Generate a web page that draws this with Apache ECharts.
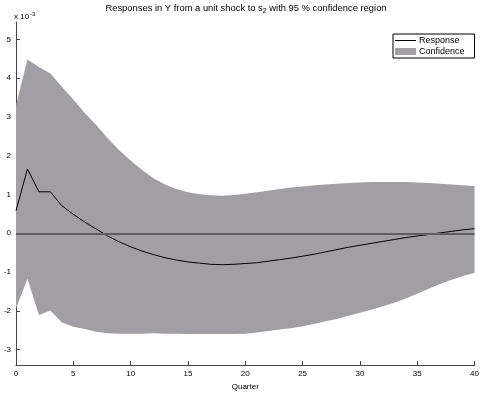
<!DOCTYPE html>
<html>
<head>
<meta charset="utf-8">
<script src="https://cdn.jsdelivr.net/npm/echarts@6/dist/echarts.min.js"></script>
<style>html,body{margin:0;padding:0;background:#fff}#c{width:482px;height:396px}</style>
</head>
<body>
<div id="c"></div>
<script>
var quarters = ['0','1','2','3','4','5','6','7','8','9','10','11','12','13','14','15','16','17','18','19','20','21','22','23','24','25','26','27','28','29','30','31','32','33','34','35','36','37','38','39','40'];
var response = [0.58, 1.66, 1.07, 1.07, 0.71, 0.49, 0.29, 0.11, -0.07, -0.22, -0.35, -0.46, -0.55, -0.63, -0.69, -0.74, -0.77, -0.80, -0.81, -0.80, -0.78, -0.76, -0.72, -0.68, -0.64, -0.59, -0.54, -0.48, -0.42, -0.36, -0.31, -0.26, -0.21, -0.16, -0.11, -0.07, -0.03, 0.01, 0.05, 0.09, 0.12];
var upper = [3.30, 4.48, 4.29, 4.12, 3.78, 3.45, 3.10, 2.79, 2.45, 2.14, 1.88, 1.63, 1.42, 1.26, 1.14, 1.06, 1.01, 0.98, 0.97, 0.99, 1.02, 1.06, 1.10, 1.14, 1.18, 1.21, 1.24, 1.26, 1.28, 1.30, 1.31, 1.32, 1.32, 1.32, 1.32, 1.31, 1.30, 1.28, 1.26, 1.24, 1.22];
var lower = [-1.94, -1.17, -2.11, -1.99, -2.30, -2.41, -2.47, -2.54, -2.58, -2.59, -2.59, -2.59, -2.58, -2.59, -2.59, -2.60, -2.60, -2.60, -2.60, -2.60, -2.59, -2.56, -2.52, -2.48, -2.45, -2.40, -2.34, -2.27, -2.21, -2.13, -2.05, -1.97, -1.88, -1.79, -1.68, -1.56, -1.43, -1.31, -1.20, -1.10, -1.02];
var yTicks = [-3, -2, -1, 0, 1, 2, 3, 4, 5];

var bandWidth = upper.map(function (u, i) { return u - lower[i]; });
var gray = '#a19fa4';
var axisCol = '#444';
var font = 'Liberation Sans, Arial, sans-serif';

var chart = echarts.init(document.getElementById('c'), null, {renderer: 'canvas'});
chart.setOption({
  animation: false,
  backgroundColor: '#fff',
  textStyle: {fontFamily: font},
  grid: {left: 16, right: 6, top: 22, bottom: 24, containLabel: false},
  graphic: [
    {type: 'text', x: 246, y: 2, style: {
      text: '{a|Responses in Y from a unit shock to s}{s|2}{a| with 95 % confidence region}',
      align: 'center', fill: '#000', font: '9px ' + font,
      rich: {a: {fontSize: 9.4, fontFamily: font, fill: '#000'}, s: {fontSize: 7, fontFamily: font, padding: [6, 0, 0, 0], fill: '#000'}}
    }},
    {type: 'text', x: 14, y: 11, style: {
      text: '{a|x 10}{s|-3}',
      fill: '#000', font: '8px ' + font,
      rich: {a: {fontSize: 8, fontFamily: font, fill: '#000'}, s: {fontSize: 6, fontFamily: font, padding: [0, 0, 6, 1], fill: '#000'}}
    }}
  ],
  legend: {
    orient: 'vertical', left: 393, top: 34,
    backgroundColor: '#fff', borderColor: '#000', borderWidth: 1,
    padding: [2, 10, 2, 2], itemGap: 2, itemWidth: 21, itemHeight: 7,
    textStyle: {fontSize: 9, fontFamily: font, color: '#000', padding: [0, 0, 0, -2]},
    data: [
      {name: 'Response', icon: 'path://M0,0H21V1H0Z', itemStyle: {color: '#000'}},
      {name: 'Confidence', icon: 'rect', itemStyle: {color: gray}}
    ]
  },
  xAxis: {
    type: 'category', data: quarters, boundaryGap: false,
    name: 'Quarter', nameLocation: 'middle', nameGap: 17,
    nameTextStyle: {fontSize: 8, fontFamily: font, color: '#000'},
    axisLine: {onZero: false, lineStyle: {color: axisCol, width: 1}},
    axisTick: {inside: true, length: 4, interval: 4, alignWithLabel: true, lineStyle: {color: axisCol}},
    axisLabel: {fontSize: 8, fontFamily: font, color: '#000', margin: 5, interval: 4},
    splitLine: {show: false}
  },
  yAxis: {
    type: 'value', min: -3.4, max: 5.45,
    axisLine: {show: true, onZero: false, lineStyle: {color: axisCol, width: 1}},
    axisTick: {show: true, inside: true, length: 4, lineStyle: {color: axisCol}, customValues: yTicks},
    axisLabel: {fontSize: 8, fontFamily: font, color: '#000', margin: 5, customValues: yTicks},
    splitLine: {show: false}
  },
  series: [
    {name: 'lo', type: 'line', stack: 'band', stackStrategy: 'all', data: lower,
      symbol: 'none', lineStyle: {opacity: 0, width: 0}, silent: true, z: 1},
    {name: 'Confidence', type: 'line', stack: 'band', stackStrategy: 'all', data: bandWidth,
      symbol: 'none', lineStyle: {opacity: 0, width: 0}, areaStyle: {color: gray, opacity: 1}, itemStyle: {color: gray}, silent: true, z: 1},
    {name: 'Response', type: 'line', data: response, symbol: 'none', z: 3,
      lineStyle: {color: '#000', width: 1}, itemStyle: {color: '#000'},
      markLine: {silent: true, symbol: 'none', label: {show: false}, animation: false,
        lineStyle: {color: '#5e5e5e', width: 2, type: 'solid'}, data: [{yAxis: 0}]}}
  ]
});
</script>
</body>
</html>
